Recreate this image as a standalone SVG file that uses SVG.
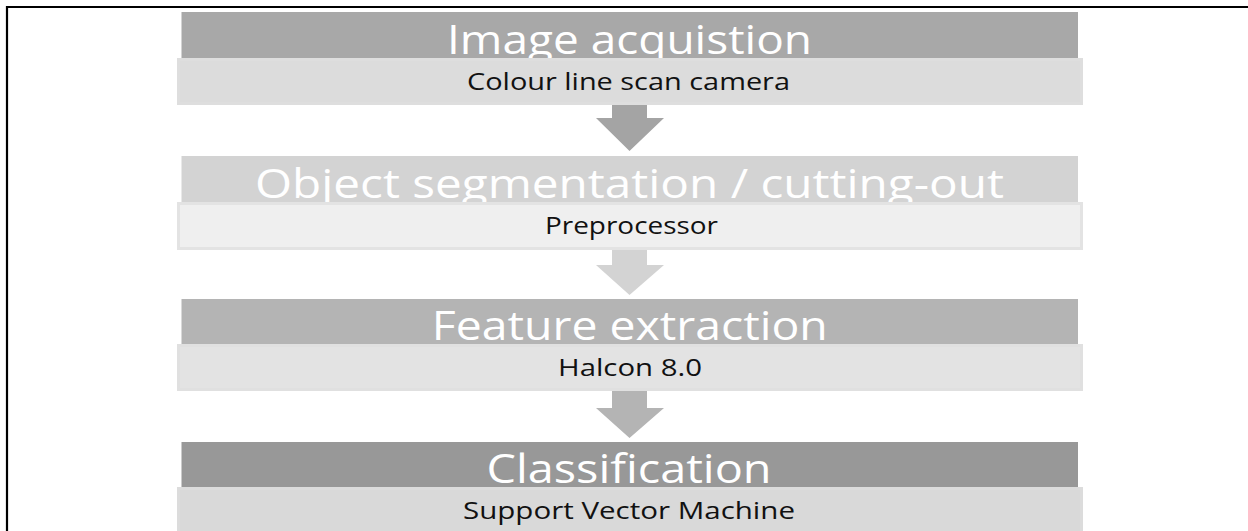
<svg xmlns="http://www.w3.org/2000/svg" width="1248" height="531" viewBox="0 0 1248 531">
  <style>
    .title { font-family: "Open Sans", "Liberation Sans", sans-serif; font-weight: 400; font-size: 41px; fill: #ffffff; text-anchor: middle; }
    .sub { font-family: "Open Sans", "Liberation Sans", sans-serif; font-size: 24px; fill: #111111; text-anchor: middle; }
    .subbox { stroke-width: 3; }
  </style>
  <rect width="1248" height="531" fill="#ffffff"/>
  <!-- frame: top and left rules only -->
  <path d="M7,531 V7 H1248" fill="none" stroke="#000000" stroke-width="2.2"/>

  <g id="connectors">
    <path d="M612,105 H647 V118 H664 L629.5,151 L596,118 H612 Z" fill="#a4a4a4"/>
    <path d="M612,250 H647 V265 H664 L629.5,295 L596,265 H612 Z" fill="#d3d3d3"/>
    <path d="M612,391 H647 V408 H664 L629.5,438 L596,408 H612 Z" fill="#b4b4b4"/>
  </g>

  <g id="image-acquisition">
    <rect x="181.5" y="12" width="896.5" height="46" fill="#a8a8a8"/>
    <text class="title" x="629.5" y="54" textLength="365" lengthAdjust="spacingAndGlyphs">Image acquistion</text>
    <rect class="subbox" x="178.5" y="59.5" width="903" height="44" fill="#dcdcdc" stroke="#dedede"/>
    <text class="sub" x="628.5" y="90" textLength="323" lengthAdjust="spacingAndGlyphs">Colour line scan camera</text>
  </g>

  <g id="object-segmentation">
    <rect x="181.5" y="156" width="896.5" height="46" fill="#d3d3d3"/>
    <text class="title" x="629.5" y="198" textLength="749" lengthAdjust="spacingAndGlyphs">Object segmentation / cutting-out</text>
    <rect class="subbox" x="178.5" y="203.5" width="903" height="45" fill="#efefef" stroke="#e3e3e3"/>
    <text class="sub" x="631.5" y="234" textLength="173" lengthAdjust="spacingAndGlyphs">Preprocessor</text>
  </g>

  <g id="feature-extraction">
    <rect x="181.5" y="299" width="896.5" height="45" fill="#b4b4b4"/>
    <text class="title" x="629.8" y="340" textLength="396" lengthAdjust="spacingAndGlyphs">Feature extraction</text>
    <rect class="subbox" x="178.5" y="345.5" width="903" height="44" fill="#e3e3e3" stroke="#e0e0e0"/>
    <text class="sub" x="630" y="376" textLength="144" lengthAdjust="spacingAndGlyphs">Halcon 8.0</text>
  </g>

  <g id="classification">
    <rect x="181.5" y="442" width="896.5" height="45" fill="#989898"/>
    <text class="title" x="629" y="483" textLength="285" lengthAdjust="spacingAndGlyphs">Classification</text>
    <rect class="subbox" x="178.5" y="488.5" width="903" height="50" fill="#d9d9d9" stroke="#dcdcdc"/>
    <text class="sub" x="629" y="519" textLength="332" lengthAdjust="spacingAndGlyphs">Support Vector Machine</text>
  </g>
</svg>
